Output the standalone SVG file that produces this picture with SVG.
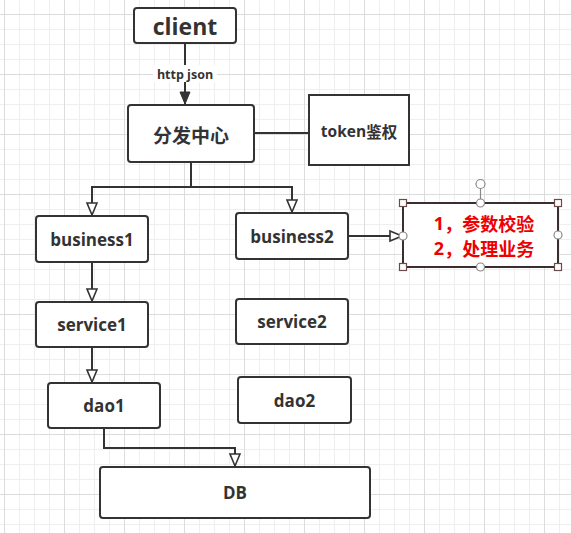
<svg xmlns="http://www.w3.org/2000/svg" width="571" height="533" viewBox="0 0 571 533">
<style>
.node{fill:#fff;stroke:#333;stroke-width:2}
.lbl{font-family:"Open Sans","Noto Sans CJK SC",sans-serif;font-weight:bold;fill:#333;text-anchor:middle;dominant-baseline:central}
.cn{font-family:"Noto Sans CJK SC",sans-serif}
.red{fill:#e00;font-family:"Open Sans","Noto Sans CJK SC",sans-serif;font-weight:bold;font-size:18px;text-anchor:middle;dominant-baseline:central}
.conn{fill:none;stroke:#333;stroke-width:2}
.hsq{fill:#fff;stroke:#6b4a4a;stroke-width:1.2}
.hci{fill:#fff;stroke:#888;stroke-width:1.2}
</style>
<defs>
<pattern id="minor" patternUnits="userSpaceOnUse" x="4" y="14" width="15" height="15">
<path d="M0.5 0V15M0 0.5H15" stroke="#efefef" stroke-width="1" fill="none"/>
</pattern>
<pattern id="major" patternUnits="userSpaceOnUse" x="4" y="14" width="60" height="60">
<path d="M0.5 0V60M0 0.5H60" stroke="#dcdcdc" stroke-width="1" fill="none"/>
</pattern>
<marker id="open" markerUnits="userSpaceOnUse" viewBox="-1 -1 14 12" markerWidth="14" markerHeight="12" refX="12" refY="5" orient="auto" overflow="visible">
<path d="M0,0 L12,5 L0,10 Z" fill="#fff" stroke="#333" stroke-width="1.6"/>
</marker>
<marker id="fill" markerUnits="userSpaceOnUse" viewBox="-1 -1 14 12" markerWidth="14" markerHeight="12" refX="12" refY="5" orient="auto" overflow="visible">
<path d="M0,0 L12,5 L0,10 Z" fill="#333" stroke="#333" stroke-width="1"/>
</marker>
</defs>
<rect width="571" height="533" fill="#fff"/>
<rect width="571" height="533" fill="url(#minor)"/>
<rect width="571" height="533" fill="url(#major)"/>

<g id="connectors">
<path class="conn" d="M185 43V104" marker-end="url(#fill)"/>
<rect x="153" y="65" width="64" height="17" fill="#fff"/>
<text class="lbl" x="185" y="74" font-size="12.5">http json</text>
<path class="conn" d="M254 133H309"/>
<path class="conn" d="M191 162V187H92V215" marker-end="url(#open)"/>
<path class="conn" d="M191 187H292V212" marker-end="url(#open)"/>
<path class="conn" d="M348 236H402" marker-end="url(#open)"/>
<path class="conn" d="M92 262V301" marker-end="url(#open)"/>
<path class="conn" d="M92 347V382" marker-end="url(#open)"/>
<path class="conn" d="M104 428V448H235V466" marker-end="url(#open)"/>
</g>

<g id="client">
<rect class="node" x="134" y="8" width="102" height="35" rx="3"/>
<text class="lbl" x="185" y="25.5" font-size="23">client</text>
</g>
<g id="dispatch">
<rect class="node" x="128" y="105" width="126" height="57" rx="3"/>
<text class="lbl cn" x="191" y="134" font-size="19">分发中心</text>
</g>
<g id="token">
<rect class="node" x="309" y="95" width="100" height="70"/>
<text class="lbl" x="359" y="131" font-size="15.5">token<tspan class="cn">鉴权</tspan></text>
</g>
<g id="business1">
<rect class="node" x="36" y="216" width="112" height="46" rx="3"/>
<text class="lbl" x="92" y="239" font-size="17">business1</text>
</g>
<g id="business2">
<rect class="node" x="236" y="213" width="112" height="46" rx="3"/>
<text class="lbl" x="292" y="236" font-size="17">business2</text>
</g>
<g id="note">
<rect x="403" y="203" width="155" height="64" fill="#fff" stroke="#3c2e2e" stroke-width="2"/>
<text class="red" x="484" y="223"><tspan>1</tspan><tspan class="cn">，参数校验</tspan></text>
<text class="red" x="484" y="248"><tspan>2</tspan><tspan class="cn">，处理业务</tspan></text>
<line x1="480.5" y1="184" x2="480.5" y2="203" stroke="#888" stroke-width="1.2"/>
<circle class="hci" cx="480.5" cy="184" r="4.5"/>
<circle class="hci" cx="480.5" cy="203" r="4"/>
<circle class="hci" cx="480.5" cy="267" r="4"/>
<circle class="hci" cx="403" cy="236" r="4"/>
<circle class="hci" cx="558" cy="235" r="4"/>
<rect class="hsq" x="399.5" y="199.5" width="7" height="7"/>
<rect class="hsq" x="554.5" y="199.5" width="7" height="7"/>
<rect class="hsq" x="399.5" y="263.5" width="7" height="7"/>
<rect class="hsq" x="554.5" y="263.5" width="7" height="7"/>
</g>
<g id="service1">
<rect class="node" x="36" y="302" width="112" height="45" rx="3"/>
<text class="lbl" x="92" y="324.5" font-size="17">service1</text>
</g>
<g id="service2">
<rect class="node" x="236" y="299" width="112" height="45" rx="3"/>
<text class="lbl" x="292" y="321.5" font-size="17">service2</text>
</g>
<g id="dao1">
<rect class="node" x="48" y="383" width="112" height="45" rx="3"/>
<text class="lbl" x="104" y="405.5" font-size="17">dao1</text>
</g>
<g id="dao2">
<rect class="node" x="238" y="377" width="113" height="46" rx="3"/>
<text class="lbl" x="294.5" y="400" font-size="17">dao2</text>
</g>
<g id="db">
<rect class="node" x="100" y="467" width="270" height="51" rx="3"/>
<text class="lbl" x="235" y="492.5" font-size="17">DB</text>
</g>
</svg>
